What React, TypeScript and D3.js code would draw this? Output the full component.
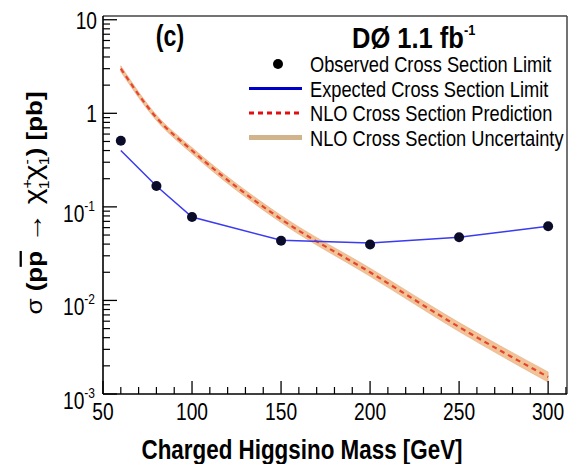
import React from "react";
import * as d3 from "d3";

const masses = [60, 80, 100, 150, 200, 250, 300];
const observed = [0.51, 0.167, 0.078, 0.0435, 0.0396, 0.0474, 0.0621];
const expected = [0.4, 0.167, 0.078, 0.044, 0.041, 0.0474, 0.0621];
const nlo = [3.0, 0.9, 0.4, 0.074, 0.02, 0.0052, 0.00152];
const nloLow = [2.78, 0.84, 0.37, 0.068, 0.0181, 0.00465, 0.00134];
const nloHigh = [3.22, 0.96, 0.43, 0.081, 0.0221, 0.0058, 0.00172];

const xMajor = [50, 100, 150, 200, 250, 300];
const yMajor = [
  { v: 10, base: "10", exp: "" },
  { v: 1, base: "1", exp: "" },
  { v: 0.1, base: "10", exp: "-1" },
  { v: 0.01, base: "10", exp: "-2" },
  { v: 0.001, base: "10", exp: "-3" },
];
const legendLabels = [
  "Observed Cross Section Limit",
  "Expected Cross Section Limit",
  "NLO Cross Section Prediction",
  "NLO Cross Section Uncertainty",
];

const W = 579;
const H = 464;
const L = 103, R = 567, T = 16, B = 394;
const FONT = "'Liberation Sans', Arial, Helvetica, sans-serif";

function NText({ x, y, sx = 0.8, children, ...rest }: any) {
  return (
    <g transform={`translate(${x},${y}) scale(${sx},1)`}>
      <text x={0} y={0} {...rest}>
        {children}
      </text>
    </g>
  );
}

export default function App() {
  const x = d3.scaleLinear().domain([50, 310.6]).range([L, R]);
  const y = d3.scaleLog().domain([1e-3, Math.pow(10, 1.04)]).range([B, T]);

  const idx = masses.map((_, i) => i);
  const lineExp = d3.line<number>().x((i) => x(masses[i])).y((i) => y(expected[i]));
  const lineNlo = d3
    .line<number>()
    .x((i) => x(masses[i]))
    .y((i) => y(nlo[i]))
    .curve(d3.curveMonotoneX);
  const band = d3
    .area<number>()
    .x((i) => x(masses[i]))
    .y0((i) => y(nloLow[i]))
    .y1((i) => y(nloHigh[i]))
    .curve(d3.curveMonotoneX);

  const xMinor = d3.range(50, 311, 10).filter((m) => m % 50 !== 0);
  const yMinor: number[] = [];
  [-3, -2, -1, 0].forEach((e) => {
    for (let k = 2; k <= 9; k++) yMinor.push(k * Math.pow(10, e));
  });

  const legY = [64, 88.5, 113, 137.5];

  return (
    <svg
      width={W}
      height={H}
      style={{ position: "absolute", left: 0, top: 0, background: "#fff" }}
      fontFamily={FONT}
    >
      <rect x={0} y={0} width={W} height={H} fill="#fff" />
      {/* band */}
      <path d={band(idx) || ""} fill="#f2c297" stroke="#e3ad80" strokeWidth={0.6} />
      <path
        d={lineNlo(idx) || ""}
        fill="none"
        stroke="#e5452c"
        strokeWidth={2.2}
        strokeDasharray="5,4"
      />
      <path d={lineExp(idx) || ""} fill="none" stroke="#3a3af0" strokeWidth={1.5} />
      {masses.map((m, i) => (
        <circle key={m} cx={x(m)} cy={y(observed[i])} r={5} fill="#0b0b2a" />
      ))}

      {/* frame */}
      <line x1={L} x2={R} y1={T} y2={T} stroke="#444" strokeWidth={1.5} />
      <line x1={R} x2={R} y1={T} y2={B} stroke="#444" strokeWidth={1.5} />
      <line x1={L} x2={L} y1={T} y2={B} stroke="#000" strokeWidth={1.6} />
      <line x1={L} x2={R} y1={B} y2={B} stroke="#000" strokeWidth={1.6} />

      {/* x ticks */}
      {xMajor.map((m) => (
        <g key={m}>
          <line x1={x(m)} x2={x(m)} y1={B} y2={B - 13} stroke="#000" strokeWidth={1.3} />
          <NText x={x(m)} y={420} textAnchor="middle" fontSize={24} fill="#000">
            {m}
          </NText>
        </g>
      ))}
      {xMinor.map((m) => (
        <line key={m} x1={x(m)} x2={x(m)} y1={B} y2={B - 7} stroke="#000" strokeWidth={1.2} />
      ))}

      {/* y ticks */}
      {yMajor.map((t) => (
        <g key={t.v}>
          <line x1={L} x2={L + 14} y1={y(t.v)} y2={y(t.v)} stroke="#000" strokeWidth={1.3} />
          {t.exp ? (
            <NText x={95} y={y(t.v) + 15} textAnchor="end" fontSize={24} fill="#000">
              {t.base}
              <tspan fontSize={15} dy={-11}>
                {t.exp}
              </tspan>
            </NText>
          ) : (
            <NText x={97} y={y(t.v) + 9} textAnchor="end" fontSize={24} fill="#000">
              {t.base}
            </NText>
          )}
        </g>
      ))}
      {yMinor.map((v) => (
        <line key={v} x1={L} x2={L + 7} y1={y(v)} y2={y(v)} stroke="#000" strokeWidth={1.2} />
      ))}

      {/* axis titles */}
      <NText x={302} y={459} sx={0.83} textAnchor="middle" fontSize={27} fontWeight="bold" fill="#000">
        Charged Higgsino Mass [GeV]
      </NText>
      <g transform="translate(42,203) rotate(-90) scale(1,0.88)">
        <text x={0} y={0} textAnchor="middle" fontSize={26} fill="#000">
          <tspan>σ </tspan>
          <tspan fontWeight="bold">(p</tspan>
          <tspan fontWeight="bold" textDecoration="overline">p</tspan>
          <tspan fontSize={30}> → </tspan>
          <tspan fontSize={30}>χ</tspan>
          <tspan fontSize={16} dy={-11}>+</tspan>
          <tspan fontSize={16} dx={-10} dy={19}>1</tspan>
          <tspan fontSize={30} dy={-8}>χ</tspan>
          <tspan fontSize={16} dy={-11}>-</tspan>
          <tspan fontSize={16} dx={-6} dy={19}>1</tspan>
          <tspan fontWeight="bold" dy={-8}>) [pb]</tspan>
        </text>
      </g>

      {/* annotations */}
      <NText x={170} y={46} textAnchor="middle" fontSize={29} fontWeight="bold" fill="#000">
        (c)
      </NText>
      <NText x={352} y={48} sx={0.85} fontSize={30} fontWeight="bold" fill="#000">
        DØ 1.1 fb
        <tspan fontSize={15} dy={-13}>-1</tspan>
      </NText>

      {/* legend */}
      <circle cx={278} cy={legY[0]} r={5} fill="#000" />
      <line x1={249} x2={302} y1={legY[1]} y2={legY[1]} stroke="#0000cc" strokeWidth={3} />
      <line
        x1={249}
        x2={302}
        y1={legY[2]}
        y2={legY[2]}
        stroke="#e01010"
        strokeWidth={3}
        strokeDasharray="5,4"
      />
      <line x1={249} x2={302} y1={legY[3]} y2={legY[3]} stroke="#d2b48c" strokeWidth={5} />
      {legendLabels.map((l, i) => (
        <NText key={l} x={310} y={legY[i] + 8} sx={0.83} fontSize={22} fill="#000">
          {l}
        </NText>
      ))}
    </svg>
  );
}
